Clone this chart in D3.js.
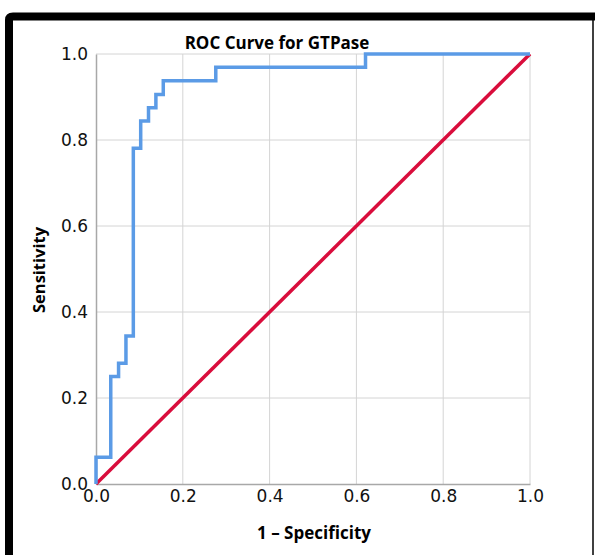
<!DOCTYPE html>
<html>
<head>
<meta charset="utf-8">
<script src="https://cdn.jsdelivr.net/npm/d3@7"></script>
<style>
  body { margin: 0; background: #fff; }
</style>
</head>
<body>
<div id="chart"></div>
<script>
// valori
const fprValues = [0, 0, 0.034, 0.052, 0.069, 0.086, 0.103, 0.121, 0.138, 0.155, 0.276, 0.621, 1];
const tprValues = [0, 0.0625, 0.25, 0.281, 0.344, 0.781, 0.844, 0.875, 0.906, 0.938, 0.969, 1, 1];
const tickValues = [0, 0.2, 0.4, 0.6, 0.8, 1.0];
const titleText = "ROC Curve for GTPase";
const xLabel = "1 – Specificity";
const yLabel = "Sensitivity";

const svg = d3.select("#chart")
  .append("svg")
  .attr("width", 595)
  .attr("height", 555);

// cornice nera
svg.append("path")
  .attr("d", "M9,555 L9,20 Q9,16.5 13,16.5 L595,16.5")
  .attr("fill", "none")
  .attr("stroke", "#000")
  .attr("stroke-width", 8);
svg.append("line")
  .attr("x1", 593).attr("x2", 593)
  .attr("y1", 16).attr("y2", 555)
  .attr("stroke", "#000")
  .attr("stroke-width", 1.5);

const plotLeft = 96, plotRight = 530, plotTop = 54, plotBottom = 484;

const x = d3.scaleLinear().domain([0, 1]).range([plotLeft, plotRight]);
const y = d3.scaleLinear().domain([0, 1]).range([plotBottom, plotTop]);

// griglia
svg.selectAll("line.vgrid")
  .data(tickValues.slice(1))
  .enter()
  .append("line")
  .attr("class", "vgrid")
  .attr("x1", d => x(d)).attr("x2", d => x(d))
  .attr("y1", plotTop).attr("y2", plotBottom)
  .style("stroke", "#d4d4d4")
  .style("stroke-width", 1);

svg.selectAll("line.hgrid")
  .data(tickValues.slice(1))
  .enter()
  .append("line")
  .attr("class", "hgrid")
  .attr("x1", plotLeft).attr("x2", plotRight)
  .attr("y1", d => y(d)).attr("y2", d => y(d))
  .style("stroke", "#d4d4d4")
  .style("stroke-width", 1);

// assi
const xAxis = svg.append("g")
  .attr("transform", `translate(0, ${plotBottom})`)
  .call(d3.axisBottom(x).tickValues(tickValues).tickFormat(d3.format(".1f")).tickSize(0).tickPadding(6));

const yAxis = svg.append("g")
  .attr("transform", `translate(${plotLeft}, 0)`)
  .call(d3.axisLeft(y).tickValues(tickValues).tickFormat(d3.format(".1f")).tickSize(0).tickPadding(8));

[xAxis, yAxis].forEach(g => {
  g.attr("font-size", 17).attr("font-family", "DejaVu Sans, sans-serif");
  g.select(".domain").attr("stroke", "#a8a8a8").attr("stroke-width", 1.5);
  g.selectAll("text").attr("fill", "#111");
});

// diagonale
svg.append("line")
  .attr("x1", x(0)).attr("y1", y(0))
  .attr("x2", x(1)).attr("y2", y(1))
  .attr("stroke", "#d90d3c")
  .attr("stroke-width", 3.5);

// curva ROC
const rocData = fprValues.map((f, i) => ({ fpr: f, tpr: tprValues[i] }));
const line = d3.line()
  .x(d => x(d.fpr))
  .y(d => y(d.tpr))
  .curve(d3.curveStepAfter);

svg.append("path")
  .datum(rocData)
  .attr("fill", "none")
  .attr("stroke", "#5b9be6")
  .attr("stroke-width", 3.5)
  .attr("d", line);

// titoli
svg.append("text")
  .attr("x", 277).attr("y", 49)
  .attr("text-anchor", "middle")
  .style("font-family", "Open Sans, sans-serif")
  .style("font-weight", "bold")
  .style("font-size", "17px")
  .text(titleText);

svg.append("text")
  .attr("x", 314).attr("y", 539)
  .attr("text-anchor", "middle")
  .style("font-family", "Open Sans, sans-serif")
  .style("font-weight", "bold")
  .style("font-size", "17px")
  .text(xLabel);

svg.append("text")
  .attr("transform", "translate(45, 270) rotate(-90)")
  .attr("text-anchor", "middle")
  .style("font-family", "Open Sans, sans-serif")
  .style("font-weight", "bold")
  .style("font-size", "16.5px")
  .text(yLabel);
</script>
</body>
</html>
